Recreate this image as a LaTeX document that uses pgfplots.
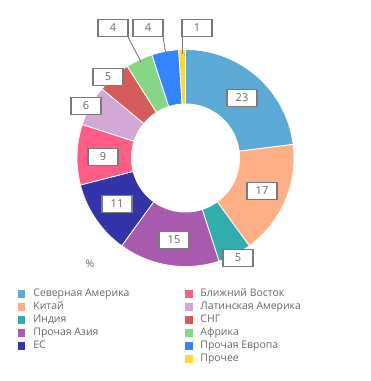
\documentclass[border=0pt]{standalone}
\usepackage{fontspec}
\setmainfont{Open Sans}
\usepackage{pgfplots}
\pgfplotsset{compat=1.18}
\definecolor{cNA}{HTML}{5BAAD5}
\definecolor{cCN}{HTML}{FFAF85}
\definecolor{cIN}{HTML}{32ADAD}
\definecolor{cAS}{HTML}{A85BAE}
\definecolor{cEU}{HTML}{3333AA}
\definecolor{cME}{HTML}{FF5C86}
\definecolor{cLA}{HTML}{D4A8D6}
\definecolor{cCIS}{HTML}{D65C5C}
\definecolor{cAF}{HTML}{85D685}
\definecolor{cOE}{HTML}{3385FF}
\definecolor{cOT}{HTML}{FFD633}
\definecolor{txt}{HTML}{666666}
\definecolor{bord}{HTML}{7A7A7A}
\def\cx{185.5}\def\cy{158}\def\R{108.5}\def\r{54.5}
\gdef\cum{0}
\newcommand\slice[2]{%
 \pgfmathsetmacro\sa{90-3.6*(\cum+#1)}%
 \pgfmathsetmacro\sb{90-3.6*\cum}%
 \pgfmathsetmacro\nc{\cum+#1}\xdef\cum{\nc}%
 \edef\tmp{\noexpand\addplot[fill=#2, draw=white, line width=0.8bp, domain=\sa:\sb, samples=80, forget plot] ({\cx+\R*cos(x)},{\cy-\R*sin(x)}) -- (axis cs:\cx,\cy) -- cycle;}\tmp}
\pgfplotsset{sq/.style={legend image code/.code={\fill[#1] (0bp,-3.25bp) rectangle (6.5bp,3.25bp);}}}
\tikzset{lbl/.style={draw=bord, line width=1.2bp, fill=white, minimum width=30bp, minimum height=17.5bp, inner sep=0pt, text=txt, font=\fontsize{11}{13}\selectfont}}
\begin{document}
\begin{tikzpicture}
\begin{axis}[hide axis, scale only axis, width=371bp, height=381bp,
 xmin=0, xmax=371, ymin=0, ymax=381, y dir=reverse, clip=false,
 legend columns=6, transpose legend, legend cell align=left,
 legend style={at={(axis cs:18,288.5)}, anchor=north west, draw=none, fill=none,
   inner sep=0pt, outer sep=0pt, font=\fontsize{10.5}{12}\selectfont, text=txt,
   row sep=2.5bp, nodes={inner sep=0pt, text height=8bp, text depth=2.5bp},
   /tikz/every odd column/.style={column sep=8.5bp},
   /tikz/every even column/.style={column sep=55.5bp}}]
\addplot[draw=none, forget plot] coordinates {(0,0) (371,381)};
\slice{23}{cNA}
\slice{17}{cCN}
\slice{5}{cIN}
\slice{15}{cAS}
\slice{11}{cEU}
\slice{9}{cME}
\slice{6}{cLA}
\slice{5}{cCIS}
\slice{4}{cAF}
\slice{4}{cOE}
\slice{1}{cOT}
\addplot[fill=white, draw=none, domain=0:360, samples=120, forget plot] ({\cx+\r*cos(x)},{\cy-\r*sin(x)}) -- cycle;
\addplot[bord, line width=0.9bp, forget plot] coordinates {(128,37) (141,62)};
\addplot[bord, line width=0.9bp, forget plot] coordinates {(163,37) (166,55)};
\addplot[bord, line width=0.9bp, forget plot] coordinates {(182,37) (182,54)};
\node[lbl] at (axis cs:242,98) {23};
\node[lbl] at (axis cs:262,191) {17};
\node[lbl] at (axis cs:238,258) {5};
\node[lbl] at (axis cs:174,240) {15};
\node[lbl] at (axis cs:117,204) {11};
\node[lbl] at (axis cs:103,157) {9};
\node[lbl] at (axis cs:86,106) {6};
\node[lbl] at (axis cs:108,77) {5};
\node[lbl] at (axis cs:113,28) {4};
\node[lbl] at (axis cs:148,28) {4};
\node[lbl] at (axis cs:197,28) {1};
\node[text=txt, font=\fontsize{10.5}{12}\selectfont] at (axis cs:90,264) {\%};
\addlegendimage{sq=cNA}\addlegendentry{Северная Америка}
\addlegendimage{sq=cCN}\addlegendentry{Китай}
\addlegendimage{sq=cIN}\addlegendentry{Индия}
\addlegendimage{sq=cAS}\addlegendentry{Прочая Азия}
\addlegendimage{sq=cEU}\addlegendentry{ЕС}
\addlegendimage{empty legend}\addlegendentry{}
\addlegendimage{sq=cME}\addlegendentry{Ближний Восток}
\addlegendimage{sq=cLA}\addlegendentry{Латинская Америка}
\addlegendimage{sq=cCIS}\addlegendentry{СНГ}
\addlegendimage{sq=cAF}\addlegendentry{Африка}
\addlegendimage{sq=cOE}\addlegendentry{Прочая Европа}
\addlegendimage{sq=cOT}\addlegendentry{Прочее}
\end{axis}
\end{tikzpicture}
\end{document}
